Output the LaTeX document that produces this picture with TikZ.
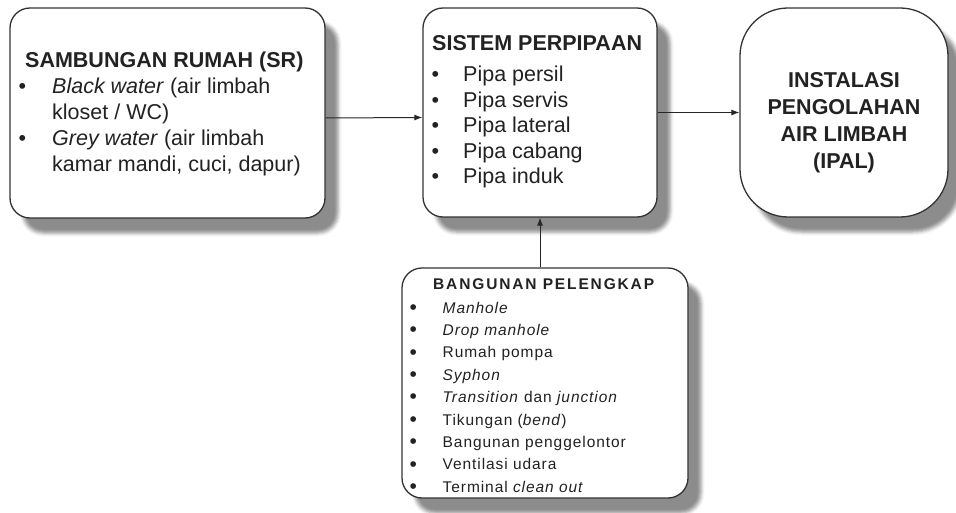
\documentclass[tikz,border=0pt]{standalone}
\usepackage{fontspec}
\setmainfont{Liberation Sans}
\newfontfamily\bpfont[LetterSpace=6]{Liberation Sans}
\newfontfamily\bptitlefont[LetterSpace=12]{Liberation Sans}
\usetikzlibrary{shadows.blur,arrows.meta}
\definecolor{txt}{HTML}{222222}
\definecolor{edge}{HTML}{333333}
\newcommand{\bpbul}{{\fontsize{21}{21}\selectfont\raisebox{-1.2pt}{\textbullet}}}
\tikzset{
  box/.style={draw=edge, line width=1.3pt, fill=white, rounded corners=20pt,
    blur shadow={shadow xshift=13pt, shadow yshift=-15pt, shadow blur radius=3.5pt, shadow opacity=45},
    inner sep=0pt},
  txtnode/.style={inner sep=0pt, anchor=base west, text=txt},
  big/.style={font=\fontsize{21.5}{25.75}\selectfont},
  small/.style={font=\bpfont\fontsize{15.5}{22.4}\selectfont},
  arr/.style={draw=black!85, line width=1pt, -{Latex[length=8pt,width=6pt]}}
}
\begin{document}
\begin{tikzpicture}[x=1pt,y=-1pt]
\useasboundingbox (0,0) rectangle (956,513);
% boxes
\node[box, minimum width=315pt, minimum height=210pt] (sr) at (167.5,113) {};
\node[box, minimum width=234pt, minimum height=209pt] (sp) at (540,112.5) {};
\node[box, rounded corners=48pt, minimum width=208pt, minimum height=209pt] (ipal) at (844,112.5) {};
\node[box, minimum width=286pt, minimum height=230pt] (bp) at (545,383) {};
% SR text
\node[txtnode, big] (srt) at (25,68) {\bfseries SAMBUNGAN RUMAH (SR)};
\node[txtnode, big] (srl) at (18.5,94) {\begin{tabular}[t]{@{}p{33.5pt}@{}l@{}}
\textbullet & \textit{Black water} (air limbah\\
 & kloset / WC)\\
\textbullet & \textit{Grey water} (air limbah\\
 & kamar mandi, cuci, dapur)
\end{tabular}};
% SP text
\node[txtnode, big] (spt) at (432,51) {\bfseries SISTEM PERPIPAAN};
\node[txtnode, font=\fontsize{21.5}{25.5}\selectfont] (spl) at (431.5,82) {\begin{tabular}[t]{@{}p{31.5pt}@{}l@{}}
\textbullet & Pipa persil\\
\textbullet & Pipa servis\\
\textbullet & Pipa lateral\\
\textbullet & Pipa cabang\\
\textbullet & Pipa induk
\end{tabular}};
% IPAL text
\node[inner sep=0pt, anchor=base, text=txt, font=\bfseries\fontsize{21.5}{26.7}\selectfont] (ipt) at (844,88) {\begin{tabular}[t]{@{}c@{}}
INSTALASI\\ PENGOLAHAN\\ AIR LIMBAH\\ (IPAL)
\end{tabular}};
% BP text
\node[txtnode, font=\bptitlefont\bfseries\fontsize{15.5}{22.4}\selectfont] (bpt) at (433,290) {BANGUNAN PELENGKAP};
\node[txtnode, small] (bpl) at (409.5,313) {\begin{tabular}[t]{@{}p{33pt}@{}l@{}}
\bpbul & \textit{Manhole}\\
\bpbul & \textit{Drop manhole}\\
\bpbul & Rumah pompa\\
\bpbul & \textit{Syphon}\\
\bpbul & \textit{Transition} dan \textit{junction}\\
\bpbul & Tikungan (\textit{bend})\\
\bpbul & Bangunan penggelontor\\
\bpbul & Ventilasi udara\\
\bpbul & Terminal \textit{clean out}
\end{tabular}};
% connectors
\draw[arr] ([yshift=-5pt]sr.east) -- ([yshift=-5pt]sp.west);
\draw[arr] (sp.east) -- (ipal.west);
\draw[arr] (bp.north -| sp.south) -- (sp.south);
\end{tikzpicture}
\end{document}
